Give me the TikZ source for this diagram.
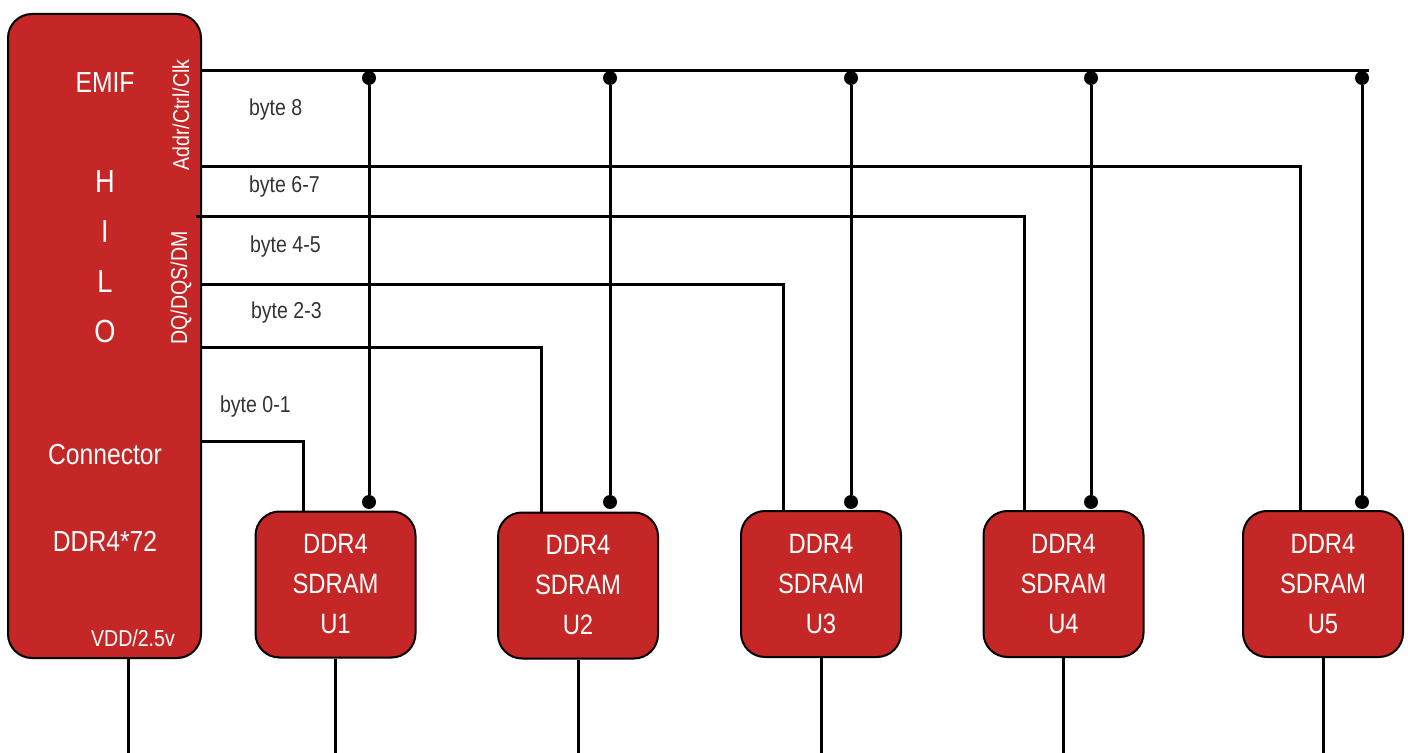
\documentclass[tikz,border=0pt]{standalone}
\usepackage{fontspec}
\setmainfont{Liberation Sans}[FakeStretch=0.85]
\usetikzlibrary{positioning}
\definecolor{ddrred}{RGB}{197,39,39}
\definecolor{labelgray}{RGB}{51,51,51}

\begin{document}
\begin{tikzpicture}[
      x=0.5pt, y=-0.5pt,
      chip/.style={draw, line width=1pt, fill=ddrred, rounded corners=12pt,
                   minimum width=80pt, minimum height=73pt, inner sep=0pt,
                   text=white, align=center, font=\fontsize{14}{20}\selectfont},
      wire/.style={line width=1.5pt},
      tap/.style={circle, fill=black, inner sep=0pt, minimum size=7pt},
      bytelbl/.style={anchor=west, text=labelgray, font=\fontsize{11.5}{14}\selectfont},
      pinlbl/.style={text=white, align=center, font=\fontsize{14.5}{17}\selectfont},
      sidelbl/.style={text=white, rotate=90, font=\fontsize{11.5}{14}\selectfont}
    ]
    \useasboundingbox (0,0) rectangle (1408,753);
    \coordinate (floor) at (0,753);

    % connector block
    \node[chip, minimum width=96.5pt, minimum height=322pt] (conn) at (104.5,336) {};
    \node[pinlbl] (emif) at (105,83) {EMIF};
    \node[pinlbl, font=\fontsize{16}{25}\selectfont] (hilo) at (105,257) {H\\I\\L\\O};
    \node[pinlbl] (cname) at (105,455) {Connector};
    \node[pinlbl] (cwidth) at (105,541) {DDR4*72};
    \node[pinlbl, font=\fontsize{11.5}{14}\selectfont] (vddlbl) at (133,638) {VDD/2.5v};
    \node[sidelbl] (addrlbl) at (181,115) {Addr/Ctrl/Clk};
    \node[sidelbl] (dqlbl) at (181,288) {DQ/DQS/DM};

    % memory chips
    \node[chip] (u1) at (335.5,584.5) {DDR4\\SDRAM\\U1};
    \node[chip] (u2) at (578,585.5) {DDR4\\SDRAM\\U2};
    \node[chip] (u3) at (821,584) {DDR4\\SDRAM\\U3};
    \node[chip] (u4) at (1063.5,584) {DDR4\\SDRAM\\U4};
    \node[chip] (u5) at (1323,584) {DDR4\\SDRAM\\U5};

    % address / control / clock fly-by bus
    \coordinate (abus) at (201,71);
    \foreach \i/\x in {1/369,2/610,3/851,4/1091,5/1362} {
      \node[tap] (t\i) at (\x,78) {};
      \node[tap] (b\i) at (\x,502) {};
      \draw[wire] (t\i) -- (b\i);
    }
    \draw[wire] (abus) -- (abus -| t5.east);

    % data byte lanes
    \coordinate (d0) at (201,442);
    \coordinate (d1) at (201,348);
    \coordinate (d2) at (201,285);
    \coordinate (d3) at (196,217);
    \coordinate (d4) at (201,167);
    \coordinate (k0) at (303,0);
    \coordinate (k1) at (541,0);
    \coordinate (k2) at (783,0);
    \coordinate (k3) at (1024,0);
    \coordinate (k4) at (1300,0);
    \draw[wire] (d0) -| (k0 |- u1.north);
    \draw[wire] (d1) -| (k1 |- u2.north);
    \draw[wire] (d2) -| (k2 |- u3.north);
    \draw[wire] (d3) -| (k3 |- u4.north);
    \draw[wire] (d4) -| (k4 |- u5.north);

    \node[bytelbl] (lane8) at (242,110) {byte 8};
    \node[bytelbl] (lane67) at (242,187) {byte 6-7};
    \node[bytelbl] (lane45) at (243,247) {byte 4-5};
    \node[bytelbl] (lane23) at (244,313) {byte 2-3};
    \node[bytelbl] (lane01) at (213,407) {byte 0-1};

    % supply leads
    \coordinate (vdd) at ([xshift=11.75pt]conn.south);
    \draw[wire] (vdd) -- (vdd |- floor);
    \foreach \u in {u1,u2,u3,u4,u5}
      \draw[wire] (\u.south) -- (\u.south |- floor);
  \end{tikzpicture}
\end{document}
